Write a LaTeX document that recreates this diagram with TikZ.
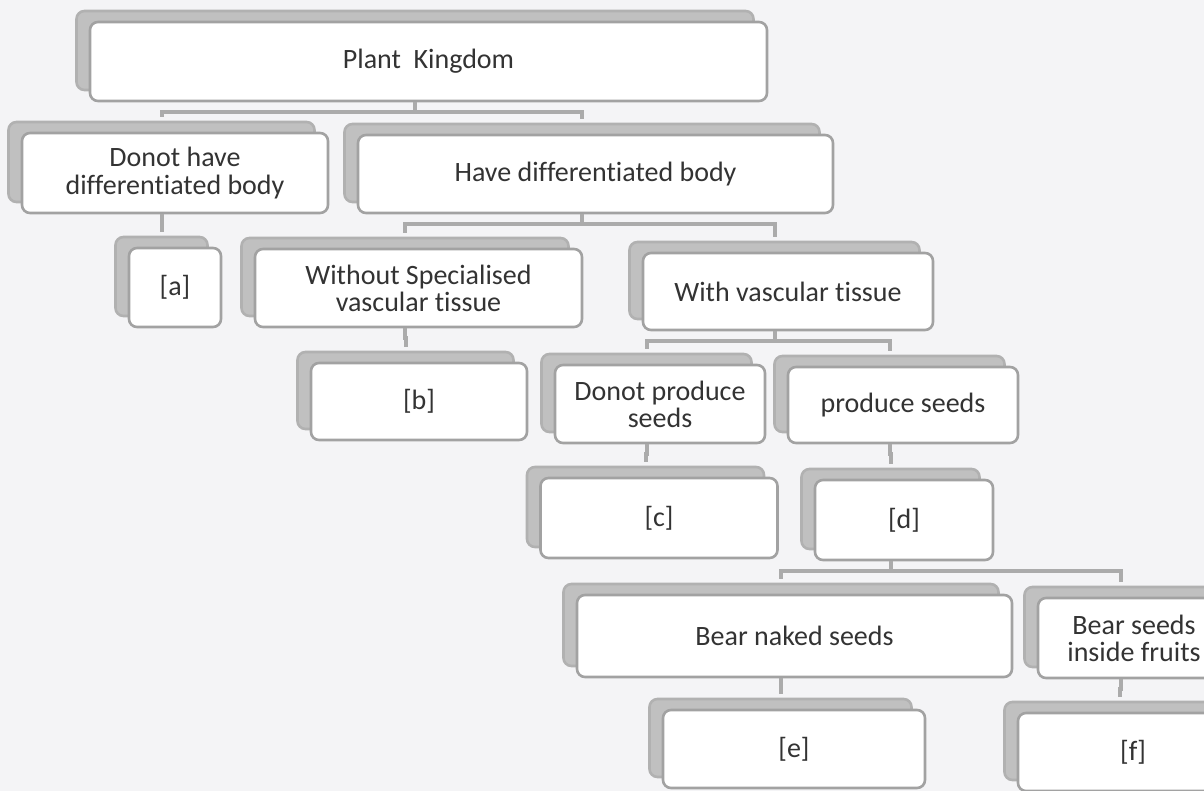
\documentclass[tikz,border=0pt]{standalone}
\usepackage{fontspec}
\setmainfont{Carlito}[Ligatures=NoCommon]
\usetikzlibrary{shadows}
\definecolor{paper}{HTML}{F4F4F6}
\definecolor{boxline}{HTML}{A2A2A2}
\definecolor{backgray}{HTML}{C0C0C0}
\definecolor{linkgray}{HTML}{ABABAB}
\definecolor{ink}{HTML}{333333}

\begin{document}
\begin{tikzpicture}[x=0.5pt,y=-0.5pt,
    card/.style={draw=boxline,line width=1.3pt,fill=white,rounded corners=4pt,
      align=center,text=ink,inner sep=0pt,font=\fontsize{14}{13.6}\selectfont,
      copy shadow={shadow xshift=-6.75pt,shadow yshift=5.5pt,fill=backgray,draw=backgray!92!black}},
    wh/.style 2 args={minimum width=#1*0.5pt,minimum height=#2*0.5pt},
    link/.style={draw=linkgray,line width=2pt}]
  \path[use as bounding box,fill=paper] (0,0) rectangle (1204,791);
  \clip (0,0) rectangle (1204,791);

  \node[card,wh={677}{79}] (pk) at (428.5,61.5) {Plant~ Kingdom};
  \node[card,wh={306}{80}] (dn) at (175,173) {Donot have\\differentiated body};
  \node[card,wh={475}{78}] (hd) at (595.5,174) {Have differentiated body};
  \node[card,wh={92}{79}] (a) at (175,287.5) {[a]};
  \node[card,wh={327}{78}] (ws) at (418.5,288) {Without Specialised\\vascular tissue};
  \node[card,wh={290}{77}] (wv) at (788,291.5) {With vascular tissue};
  \node[card,wh={216}{77}] (b) at (419,401.5) {[b]};
  \node[card,wh={210}{78}] (dp) at (660,404) {Donot produce\\seeds};
  \node[card,wh={230}{76}] (ps) at (903,405) {produce seeds};
  \node[card,wh={237}{80}] (c) at (659,518) {[c]};
  \node[card,wh={178}{80}] (d) at (904,520) {[d]};
  \node[card,wh={435}{82}] (bn) at (794.5,636) {Bear naked seeds};
  \node[card,wh={192}{80}] (bf) at (1134,638) {Bear seeds\\inside fruits};
  \node[card,wh={262}{78}] (e) at (794,749) {[e]};
  \node[card,wh={230}{78}] (f) at (1133,752) {[f]};

  \foreach \p/\q in {pk/dn,pk/hd,dn/a,hd/ws,hd/wv,ws/b,wv/dp,wv/ps,dp/c,ps/d,d/bn,d/bf,bn/e,bf/f}
    \draw[link] ([xshift=-6.75pt]\p.south) -- ++(0,10) -| ([xshift=-6.75pt,yshift=7.5pt]\q.north);
\end{tikzpicture}
\end{document}
